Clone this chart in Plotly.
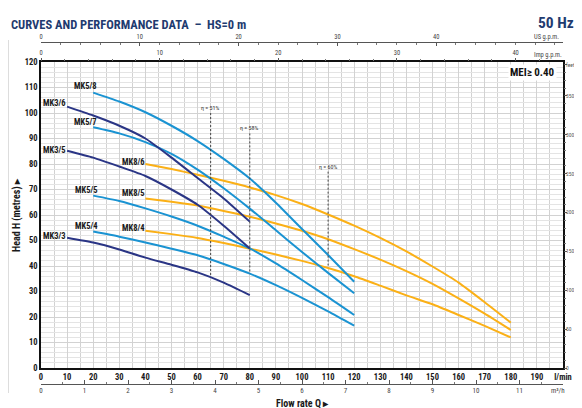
import plotly.graph_objects as go

# ---------------- data ----------------
mk3_flow = [10, 20, 30, 40, 50, 60, 70, 80]
mk3_3 = [51.1, 49.2, 46.5, 43.3, 40.5, 37.5, 33.5, 28.6]
mk3_5 = [85.2, 82.5, 79.0, 75.3, 70.0, 64.0, 55.8, 46.9]
mk3_6 = [102.5, 99.0, 95.0, 90.0, 82.5, 74.5, 66.5, 57.4]

mk5_flow = [20, 30, 40, 50, 60, 70, 80, 90, 100, 110, 120]
mk5_4 = [53.5, 51.5, 49.2, 46.8, 44.2, 40.8, 37.0, 32.5, 27.5, 22.2, 16.6]
mk5_5 = [67.6, 65.5, 62.6, 59.4, 55.8, 51.5, 46.9, 41.0, 34.5, 27.8, 20.8]
mk5_7 = [94.4, 92.0, 88.6, 84.0, 77.8, 70.5, 62.5, 54.0, 45.5, 37.3, 29.3]
mk5_8 = [108.0, 104.5, 100.3, 95.0, 89.0, 82.0, 74.3, 64.8, 54.5, 44.3, 33.8]

mk8_flow = [40, 50, 60, 70, 80, 90, 100, 110, 120, 130, 140, 150, 160, 170, 180]
mk8_4 = [53.8, 52.5, 51.0, 49.0, 46.8, 44.5, 42.0, 39.2, 36.0, 32.3, 28.5, 25.0, 20.8, 16.5, 12.0]
mk8_5 = [66.5, 65.2, 63.7, 61.6, 59.3, 56.7, 53.8, 50.5, 46.6, 42.5, 38.0, 33.0, 27.3, 21.3, 14.9]
mk8_6 = [80.0, 78.0, 75.8, 73.4, 70.8, 67.8, 64.3, 60.2, 55.8, 51.0, 45.7, 39.8, 33.5, 25.8, 17.8]

# efficiency markers: flow, top head, bottom head, label
eff_flow = [65, 80, 110]
eff_top = [100.0, 92.0, 77.0]
eff_bottom = [35.8, 37.0, 40.2]
eff_labels = ["η = 51%", "η = 58%", "η = 60%"]

# curve labels: name, x, y
label_names = ["MK5/8", "MK3/6", "MK5/7", "MK3/5", "MK5/5", "MK5/4", "MK3/3", "MK8/6", "MK8/5", "MK8/4"]
label_x = [16.9, 5.0, 16.9, 5.0, 17.4, 17.4, 5.0, 35.4, 35.4, 35.4]
label_y = [110.4, 103.8, 96.6, 85.6, 69.8, 55.8, 51.6, 80.8, 68.6, 54.8]

flow_ticks = list(range(0, 201, 10))
flow_text = [str(v) for v in range(0, 200, 10)] + ["l/min"]
head_ticks = list(range(0, 121, 10))
feet_ticks = [0, 50, 100, 150, 200, 250, 300, 350, 390]
feet_text = ["0", "50", "100", "150", "200", "250", "300", "350", "feet"]
us_ticks = [0, 10, 20, 30, 40]
imp_ticks = [0, 10, 20, 30, 40]
m3h_ticks = list(range(0, 12))

NAVY = "#2a3585"
BLUE = "#1a93d2"
ORANGE = "#fbb016"
TITLE = "#1f3b70"
FONT = "Liberation Sans Narrow, Arial Narrow, Roboto Condensed, Liberation Sans, sans-serif"

fig = go.Figure()

def curve(x, y, color):
    fig.add_trace(go.Scatter(x=x, y=y, mode="lines", line=dict(color=color, width=2, shape="spline", smoothing=0.6),
                             showlegend=False, hoverinfo="skip"))

for ys in (mk8_4, mk8_5, mk8_6):
    curve(mk8_flow, ys, ORANGE)
for ys in (mk5_4, mk5_5, mk5_7, mk5_8):
    curve(mk5_flow, ys, BLUE)
for ys in (mk3_3, mk3_5, mk3_6):
    curve(mk3_flow, ys, NAVY)

for fx, yt, yb in zip(eff_flow, eff_top, eff_bottom):
    fig.add_trace(go.Scatter(x=[fx, fx], y=[yt, yb], mode="lines",
                             line=dict(color="#444444", width=1, dash="2px,2px"),
                             showlegend=False, hoverinfo="skip"))

# dummy traces for secondary axes
for xa, ya in (("x2", "y"), ("x3", "y"), ("x4", "y"), ("x", "y2")):
    fig.add_trace(go.Scatter(x=[None], y=[None], xaxis=xa, yaxis=ya, showlegend=False, hoverinfo="skip"))

annotations = []
for fx, yt, lab in zip(eff_flow, eff_top, eff_labels):
    annotations.append(dict(x=fx, y=yt, xref="x", yref="y", text=lab, showarrow=False, xanchor="center",
                            yanchor="bottom", font=dict(size=6, color="#333333", family=FONT)))
for name, lx, ly in zip(label_names, label_x, label_y):
    annotations.append(dict(x=lx, y=ly, xref="x", yref="y", text=name, showarrow=False, xanchor="center",
                            yanchor="middle", font=dict(size=8.5, color="#1a1a1a", family=FONT, weight="bold")))

y0 = (384 - 368) / 342
y1 = (384 - 62) / 342

def px_x(p):
    return (p - 41) / 522

def px_y(p):
    return (384 - p) / 342

annotations += [
    dict(x=px_x(9), y=px_y(24), xanchor="left", text="CURVES AND PERFORMANCE DATA  –  HS=0 m",
         font=dict(size=12.5, color=TITLE, family=FONT, weight="bold")),
    dict(x=px_x(576), y=px_y(23), xanchor="right", text="50 Hz",
         font=dict(size=15.5, color=TITLE, family=FONT, weight="bold")),
    dict(x=px_x(557), y=px_y(72), xanchor="right", text="MEI≥ 0.40", bgcolor="white",
         font=dict(size=11, color="#111111", family=FONT, weight="bold")),
    dict(x=px_x(17), y=px_y(215), xanchor="center", text="Head H (metres) ▸", textangle=-90,
         font=dict(size=10, color="#1a1a1a", family=FONT, weight="bold")),
    dict(x=px_x(302), y=px_y(403), xanchor="center", text="Flow rate Q ▸",
         font=dict(size=10, color="#1a1a1a", family=FONT, weight="bold")),
    dict(x=px_x(546), y=px_y(37), xanchor="center", text="US g.p.m.",
         font=dict(size=6.5, color="#444444", family=FONT)),
    dict(x=px_x(548), y=px_y(55), xanchor="center", text="Imp g.p.m.",
         font=dict(size=6.5, color="#444444", family=FONT)),
    dict(x=px_x(558), y=px_y(391), xanchor="center", text="m³/h",
         font=dict(size=7, color="#444444", family=FONT)),
]
for a in annotations[-8:]:
    a.update(xref="paper", yref="paper", showarrow=False, yanchor="middle")

shapes = [dict(type="line", xref="paper", yref="paper", x0=px_x(8), x1=px_x(8), y0=px_y(40), y1=px_y(393),
               line=dict(color="#bbbbbb", width=1))]

# page body has an 8px default margin: figure is 8px smaller and margins shifted accordingly
fig.update_layout(
    width=574, height=400,
    margin=dict(l=33, r=19, t=34, b=24, autoexpand=False),
    paper_bgcolor="white", plot_bgcolor="white",
    font=dict(family=FONT, color="#1a1a1a"),
    annotations=annotations, shapes=shapes,
    xaxis=dict(domain=[0, 1], anchor="y", range=[0, 200], tickvals=flow_ticks, ticktext=flow_text,
               tickfont=dict(size=8.5, weight="bold", family=FONT, color="#1a1a1a"),
               showgrid=True, gridcolor="#d2d2d2", gridwidth=1,
               minor=dict(dtick=5, tick0=0, showgrid=True, gridcolor="#d2d2d2", gridwidth=1),
               showline=True, linecolor="#111111", linewidth=1.5, mirror=True, ticks="", zeroline=False,
               automargin=False),
    yaxis=dict(domain=[y0, y1], anchor="x", range=[0, 120], tickvals=head_ticks,
               tickfont=dict(size=8.5, weight="bold", family=FONT, color="#1a1a1a"),
               showgrid=True, gridcolor="#d2d2d2", gridwidth=1,
               minor=dict(dtick=2, tick0=0, showgrid=True, gridcolor="#e4e4e4", gridwidth=1),
               showline=True, linecolor="#111111", linewidth=1.5, mirror=True, ticks="", zeroline=False,
               automargin=False),
    yaxis2=dict(overlaying="y", anchor="x", side="right", range=[0, 120 / 0.3048],
                tickvals=feet_ticks, ticktext=feet_text, ticks="outside", ticklen=3, tickcolor="#555555",
                minor=dict(dtick=10, tick0=0, ticks="outside", ticklen=2, tickcolor="#777777"),
                ticklabelstandoff=-2,
                tickfont=dict(size=5.5, color="#555555", family=FONT), showgrid=False, zeroline=False,
                automargin=False),
    xaxis2=dict(overlaying="x", anchor="y", side="top", range=[0, 200 / 4.54609],
                tickvals=imp_ticks, ticks="outside", ticklen=3, tickcolor="#555555",
                minor=dict(dtick=2, tick0=0, ticks="outside", ticklen=2, tickcolor="#777777"),
                tickfont=dict(size=6.5, color="#444444", family=FONT), showgrid=False, zeroline=False,
                automargin=False),
    xaxis3=dict(overlaying="x", anchor="free", position=1, side="top", range=[0, 200 / 3.78541],
                tickvals=us_ticks, ticks="inside", ticklen=3, tickcolor="#555555",
                minor=dict(dtick=2, tick0=0, ticks="inside", ticklen=2, tickcolor="#777777"),
                showline=True, linecolor="#555555", linewidth=1,
                tickfont=dict(size=6.5, color="#444444", family=FONT), showgrid=False, zeroline=False,
                automargin=False),
    xaxis4=dict(overlaying="x", anchor="free", position=0, side="bottom", range=[0, 12],
                tickvals=m3h_ticks, ticks="inside", ticklen=4, tickcolor="#555555",
                minor=dict(dtick=0.5, tick0=0, ticks="inside", ticklen=2, tickcolor="#777777"),
                showline=True, linecolor="#555555", linewidth=1,
                tickfont=dict(size=7, color="#444444", family=FONT), showgrid=False, zeroline=False,
                automargin=False),
)

fig.write_html("out.html")
